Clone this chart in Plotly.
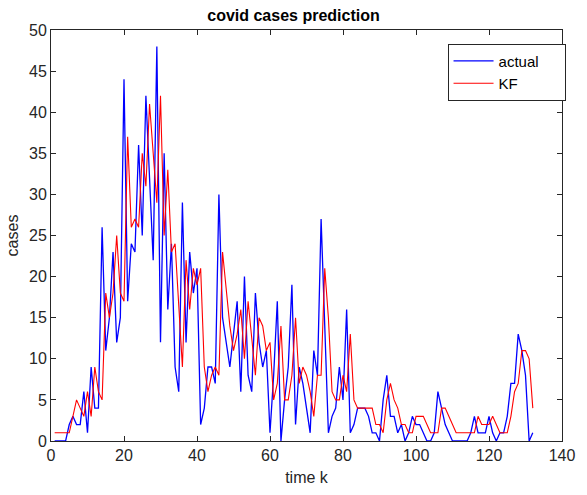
import plotly.graph_objects as go

time_k = list(range(1, 133))

actual = [0, 0, 0, 0, 2, 3, 2, 2, 6, 1,
          9, 4, 4, 26, 11, 15, 23, 12, 15, 44,
          17, 24, 23, 36, 25, 42, 32, 22, 48, 12,
          35, 16, 24, 9, 6, 29, 12, 23, 18, 21,
          2, 4, 9, 9, 7, 30, 15, 12, 9, 13,
          17, 6, 20, 8, 6, 18, 12, 9, 11, 1,
          8, 17, 0, 5, 9, 19, 2, 9, 7, 4,
          1, 11, 8, 27, 13, 1, 3, 4, 9, 5,
          16, 1, 2, 4, 4, 4, 3, 1, 1, 0,
          5, 8, 3, 3, 1, 2, 0, 1, 3, 2,
          2, 1, 0, 0, 1, 6, 4, 2, 1, 0,
          0, 0, 0, 0, 1, 3, 1, 1, 1, 3,
          1, 0, 1, 1, 3, 7, 7, 13, 11, 8,
          0, 1]

kf = [1, 1, 1, 1, 1, 3, 5, 4, 3, 6,
      3, 9, 6, 5, 18, 15, 18, 25, 18, 17,
      37, 26, 27, 26, 35, 31, 41, 35, 29, 42,
      25, 33, 23, 24, 16, 9, 22, 16, 21, 19,
      21, 9, 6, 8, 9, 8, 23, 18, 14, 11,
      13, 16, 10, 17, 12, 8, 15, 14, 11, 12,
      5, 7, 14, 5, 5, 8, 15, 7, 9, 8,
      6, 3, 8, 8, 21, 15, 6, 5, 5, 8,
      6, 13, 5, 4, 4, 4, 4, 4, 2, 2,
      1, 5, 7, 5, 4, 2, 2, 1, 1, 3,
      3, 3, 2, 1, 1, 1, 4, 4, 3, 2,
      1, 1, 1, 1, 1, 1, 3, 2, 2, 2,
      3, 2, 1, 1, 1, 3, 6, 7, 11, 11,
      10, 4]

series_names = ["actual", "KF"]
pad = "\u00a0" * 5

fig = go.Figure()
fig.add_trace(go.Scatter(x=time_k, y=actual, mode="lines", name=series_names[0] + pad,
                         line=dict(color="#0000ff", width=1.3)))
fig.add_trace(go.Scatter(x=time_k, y=kf, mode="lines", name=series_names[1] + pad,
                         line=dict(color="#ff0000", width=1.1)))

axis_common = dict(
    showgrid=False, zeroline=False, showline=True, linecolor="#262626",
    linewidth=1, mirror="ticks", ticks="inside", ticklen=5,
    tickcolor="#262626", tickfont=dict(family="Liberation Sans", size=16, color="#262626"),
)

fig.update_layout(
    width=587, height=495,
    margin=dict(l=51, r=14, t=30, b=54),
    paper_bgcolor="white", plot_bgcolor="white",
    title=dict(text="covid cases prediction", x=0.5, xanchor="center",
               y=0.968, yanchor="middle",
               font=dict(family="Liberation Sans", size=16, color="black", weight="bold")),
    xaxis=dict(range=[0, 140], dtick=20, tick0=0,
               title=dict(text="time k", font=dict(family="Liberation Sans", size=16, color="#262626"), standoff=8),
               **axis_common),
    yaxis=dict(range=[0, 50], dtick=5, tick0=0,
               title=dict(text="cases", font=dict(family="Liberation Sans", size=16, color="#262626"), standoff=6),
               **axis_common),
    legend=dict(x=0.776, y=0.967, xanchor="left", yanchor="top",
                bgcolor="white", bordercolor="#262626", borderwidth=1,
                font=dict(family="Liberation Sans", size=15, color="black"),
                tracegroupgap=0, itemwidth=40),
    showlegend=True,
)

fig.write_html("out.html")
